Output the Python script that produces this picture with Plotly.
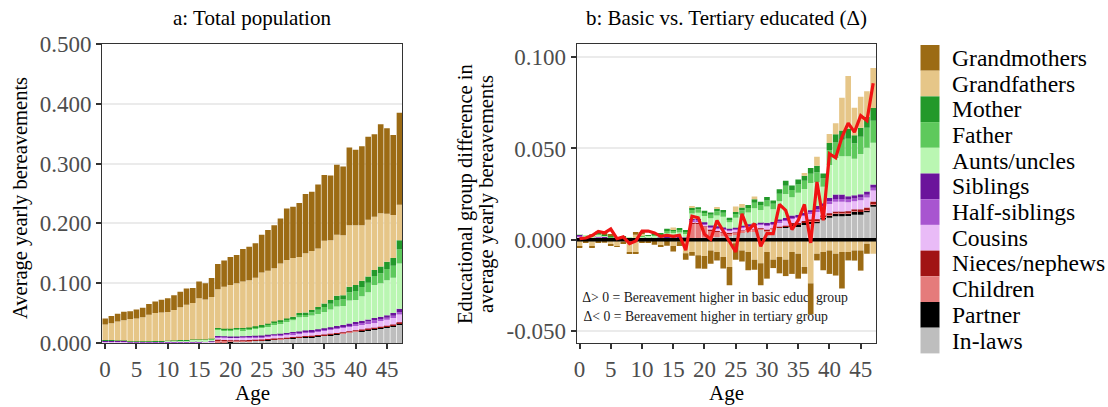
import plotly.graph_objects as go

ages = list(range(48))
age_ticks = [0, 5, 10, 15, 20, 25, 30, 35, 40, 45]

# ---------------- a: Total population (average yearly bereavements) ----------------
in_laws_a = [0, 0, 0, 0, 0, 0, 0, 0, 0, 0, 0, 0, 0, 0, 0, 0, 0, 0,
             0.0008, 0.0010, 0.0015, 0.0020, 0.0025, 0.0030, 0.0035, 0.0040, 0.0050, 0.0055,
             0.0060, 0.0070, 0.0080, 0.0085, 0.0095, 0.0100, 0.0110, 0.0120, 0.0130, 0.0145,
             0.0155, 0.0170, 0.0190, 0.0200, 0.0215, 0.0230, 0.0245, 0.0260, 0.0280, 0.0315]
partner_a = [0, 0, 0, 0, 0, 0, 0, 0, 0, 0, 0, 0, 0, 0, 0, 0, 0, 0,
             0.0002, 0.0002, 0.0002, 0.0003, 0.0003, 0.0003, 0.0003, 0.0003, 0.0004, 0.0004,
             0.0005, 0.0005, 0.0006, 0.0006, 0.0007, 0.0007, 0.0008, 0.0008, 0.0009, 0.0009,
             0.0010, 0.0010, 0.0010, 0.0011, 0.0011, 0.0012, 0.0012, 0.0013, 0.0014, 0.0015]
children_a = [0, 0, 0, 0, 0, 0, 0, 0, 0, 0, 0, 0, 0, 0, 0, 0, 0, 0,
              0.0025, 0.0022, 0.0018, 0.0012, 0.0010, 0.0008, 0.0007, 0.0006, 0.0006, 0.0006,
              0.0005, 0.0005, 0.0005, 0.0005, 0.0005, 0.0005, 0.0005, 0.0005, 0.0005, 0.0005,
              0.0005, 0.0005, 0.0005, 0.0005, 0.0004, 0.0004, 0.0004, 0.0004, 0.0004, 0.0004]
nieces_a = [0, 0, 0, 0, 0, 0, 0, 0, 0, 0, 0, 0, 0, 0, 0, 0, 0, 0,
            0.0020, 0.0016, 0.0012, 0.0010, 0.0009, 0.0008, 0.0008, 0.0008, 0.0008, 0.0009,
            0.0009, 0.0009, 0.0009, 0.0009, 0.0010, 0.0010, 0.0010, 0.0010, 0.0010, 0.0010,
            0.0010, 0.0010, 0.0010, 0.0011, 0.0011, 0.0011, 0.0011, 0.0011, 0.0012, 0.0012]
cousins_a = [0.0020, 0.0020, 0.0018, 0.0018, 0.0015, 0.0014, 0.0014, 0.0014, 0.0014, 0.0014,
             0.0014, 0.0015, 0.0015, 0.0016, 0.0016, 0.0016, 0.0017, 0.0017,
             0.0040, 0.0040, 0.0040, 0.0040, 0.0040, 0.0040, 0.0040, 0.0040, 0.0042, 0.0044,
             0.0046, 0.0048, 0.0050, 0.0052, 0.0054, 0.0056, 0.0058, 0.0060, 0.0064, 0.0068,
             0.0072, 0.0076, 0.0080, 0.0084, 0.0088, 0.0092, 0.0096, 0.0100, 0.0110, 0.0130]
half_siblings_a = [0.0012, 0.0012, 0.0010, 0.0010, 0.0006, 0.0006, 0.0006, 0.0006, 0.0006, 0.0006,
                   0.0006, 0.0006, 0.0006, 0.0006, 0.0006, 0.0006, 0.0006, 0.0006,
                   0.0012, 0.0012, 0.0013, 0.0013, 0.0014, 0.0014, 0.0015, 0.0015, 0.0016, 0.0016,
                   0.0017, 0.0017, 0.0018, 0.0019, 0.0020, 0.0021, 0.0021, 0.0022, 0.0023, 0.0024,
                   0.0025, 0.0026, 0.0028, 0.0030, 0.0031, 0.0033, 0.0034, 0.0035, 0.0037, 0.0040]
siblings_a = [0.0008, 0.0008, 0.0006, 0.0006, 0.0005, 0.0005, 0.0005, 0.0005, 0.0005, 0.0005,
              0.0005, 0.0005, 0.0005, 0.0005, 0.0005, 0.0005, 0.0005, 0.0005,
              0.0010, 0.0010, 0.0010, 0.0011, 0.0011, 0.0012, 0.0012, 0.0012, 0.0013, 0.0013,
              0.0014, 0.0014, 0.0015, 0.0016, 0.0017, 0.0018, 0.0019, 0.0020, 0.0022, 0.0024,
              0.0026, 0.0028, 0.0030, 0.0032, 0.0034, 0.0036, 0.0038, 0.0040, 0.0045, 0.0055]
aunts_a = [0.0007, 0.0007, 0.0004, 0.0004, 0.0002, 0.0003, 0.0003, 0.0003, 0.0004, 0.0004,
           0.0011, 0.0011, 0.0020, 0.0020, 0.0029, 0.0029, 0.0028, 0.0038,
           0.0103, 0.0098, 0.0100, 0.0110, 0.0105, 0.0110, 0.0122, 0.0136, 0.0138, 0.0167,
           0.0174, 0.0187, 0.0197, 0.0238, 0.0227, 0.0241, 0.0253, 0.0273, 0.0297, 0.0325,
           0.0317, 0.0385, 0.0367, 0.0407, 0.0456, 0.0552, 0.0560, 0.0587, 0.0588, 0.0759]
father_a = [0.0002, 0.0002, 0.0002, 0.0002, 0.0002, 0.0002, 0.0002, 0.0002, 0.0002, 0.0002,
            0.0002, 0.0002, 0.0002, 0.0002, 0.0002, 0.0002, 0.0002, 0.0002,
            0.0018, 0.0018, 0.0018, 0.0019, 0.0020, 0.0021, 0.0023, 0.0024, 0.0026, 0.0028,
            0.0030, 0.0033, 0.0036, 0.0042, 0.0045, 0.0055, 0.0070, 0.0085, 0.0096, 0.0108,
            0.0108, 0.0138, 0.0150, 0.0156, 0.0156, 0.0150, 0.0168, 0.0186, 0.0200, 0.0234]
mother_a = [0.0001, 0.0001, 0.0001, 0.0001, 0.0001, 0.0001, 0.0001, 0.0001, 0.0001, 0.0001,
            0.0001, 0.0001, 0.0001, 0.0001, 0.0001, 0.0001, 0.0001, 0.0001,
            0.0012, 0.0012, 0.0012, 0.0012, 0.0013, 0.0014, 0.0015, 0.0016, 0.0017, 0.0018,
            0.0020, 0.0022, 0.0024, 0.0028, 0.0030, 0.0037, 0.0046, 0.0057, 0.0064, 0.0072,
            0.0072, 0.0092, 0.0100, 0.0104, 0.0104, 0.0100, 0.0112, 0.0124, 0.0130, 0.0156]
grandfathers_a = [0.026, 0.028, 0.032, 0.034, 0.037, 0.038, 0.040, 0.044, 0.047, 0.048,
                  0.048, 0.051, 0.055, 0.059, 0.061, 0.069, 0.067, 0.070,
                  0.065, 0.070, 0.073, 0.075, 0.078, 0.079, 0.081, 0.088, 0.089, 0.089,
                  0.095, 0.098, 0.098, 0.094, 0.099, 0.099, 0.098, 0.105, 0.100, 0.102,
                  0.100, 0.103, 0.100, 0.093, 0.095, 0.089, 0.089, 0.080, 0.072, 0.059]
grandmothers_a = [0.010, 0.012, 0.013, 0.014, 0.013, 0.015, 0.016, 0.018, 0.019, 0.021,
                  0.023, 0.025, 0.026, 0.027, 0.025, 0.028, 0.027, 0.032,
                  0.042, 0.044, 0.047, 0.047, 0.054, 0.056, 0.058, 0.063, 0.068, 0.072,
                  0.075, 0.086, 0.086, 0.090, 0.099, 0.099, 0.107, 0.110, 0.108, 0.117,
                  0.115, 0.130, 0.126, 0.132, 0.139, 0.138, 0.149, 0.143, 0.134, 0.154]

# ---------------- b: Basic minus tertiary educated (delta) ----------------
in_laws_b = [0, 0, 0, 0, 0, 0, 0, 0, 0, 0, 0, 0, 0, 0, 0, 0, 0, 0,
             0.0000, 0.0005, 0.0010, 0.0012, 0.0015, 0.0018, 0.0020, 0.0027, 0.0040, 0.0045,
             0.0046, 0.0055, 0.0046, 0.0055, 0.0064, 0.0064, 0.0073, 0.0073, 0.0082, 0.0090,
             0.0090, 0.0110, 0.0120, 0.0128, 0.0128, 0.0130, 0.0137, 0.0137, 0.0150, 0.0180]
partner_b = [0, 0, 0, 0, 0, 0, 0, 0, 0, 0, 0, 0, 0, 0, 0, 0, 0, 0,
             0, 0, 0, 0, 0, 0, 0, 0, 0, 0, 0, 0, 0, 0, 0, 0.0006, 0.0008, 0.0008, 0.0010, 0.0010,
             0.0012, 0.0012, 0.0015, 0.0015, 0.0015, 0.0015, 0.0018, 0.0015, 0.0012, 0.0015]
children_b = [0, 0, 0, 0, 0, 0, 0, 0, 0, 0, 0, 0, 0, 0, 0, 0, 0, 0,
              0.0090, 0.0085, 0.0060, 0.0040, 0.0030, 0.0020, 0.0015, 0.0010, 0.0008, 0.0008,
              0.0008, 0.0006, 0.0006, 0.0004, 0.0004, 0.0004, 0.0004, 0.0004, 0.0004, 0.0004,
              0.0004, 0.0004, 0.0004, 0.0004, 0.0004, 0.0004, 0.0004, 0.0004, 0.0004, 0.0004]
nieces_b = [0, 0, 0, 0, 0, 0, 0, 0, 0, 0, 0, 0, 0, 0, 0, 0, 0, 0,
            0.0002, 0.0002, 0.0002, 0.0002, 0.0002, 0.0002, 0.0002, 0.0002, 0.0002, 0.0002,
            0.0002, 0.0002, 0.0002, 0.0002, 0.0002, 0.0002, 0.0006, 0.0006, 0.0006, 0.0006,
            0.0006, 0.0006, 0.0006, 0.0006, 0.0006, 0.0006, 0.0006, 0.0010, 0.0010, 0.0010]
cousins_b = [0.0015, 0.0008, 0.0005, 0.0010, 0.0008, 0.0004, 0.0004, 0.0004, 0.0003, 0.0003,
             0.0004, 0.0005, 0.0006, 0.0005, 0.0006, 0.0005, 0.0006, 0.0005,
             0.0010, 0.0010, 0.0012, 0.0012, 0.0015, 0.0015, 0.0012, 0.0015, 0.0015, 0.0018,
             0.0020, 0.0018, 0.0022, 0.0020, 0.0025, 0.0028, 0.0025, 0.0030, 0.0030, 0.0035,
             0.0040, 0.0035, 0.0050, 0.0055, 0.0055, 0.0050, 0.0045, 0.0050, 0.0055, 0.0060]
half_siblings_b = [0.0008, 0.0005, 0.0004, 0.0005, 0.0005, 0.0003, 0.0003, 0.0003, 0.0003, 0.0003,
                   0.0003, 0.0004, 0.0005, 0.0004, 0.0005, 0.0004, 0.0005, 0.0004,
                   0.0006, 0.0006, 0.0006, 0.0006, 0.0006, 0.0006, 0.0006, 0.0006, 0.0006, 0.0006,
                   0.0006, 0.0006, 0.0008, 0.0008, 0.0008, 0.0008, 0.0008, 0.0008, 0.0008, 0.0008,
                   0.0015, 0.0015, 0.0015, 0.0015, 0.0015, 0.0015, 0.0015, 0.0015, 0.0015, 0.0015]
siblings_b = [0.0004, 0.0004, 0.0004, 0.0004, 0.0004, 0.0002, 0.0002, 0.0002, 0.0002, 0.0002,
              0.0002, 0.0003, 0.0003, 0.0003, 0.0003, 0.0003, 0.0003, 0.0003,
              0.0005, 0.0005, 0.0005, 0.0005, 0.0005, 0.0005, 0.0005, 0.0005, 0.0005, 0.0005,
              0.0005, 0.0005, 0.0008, 0.0008, 0.0008, 0.0008, 0.0008, 0.0008, 0.0008, 0.0008,
              0.0018, 0.0018, 0.0020, 0.0025, 0.0025, 0.0018, 0.0018, 0.0018, 0.0018, 0.0018]
aunts_b = [0.0003, 0.0003, 0.0005, 0.0010, 0.0005, 0.0005, 0.0003, 0.0005, 0.0003, 0.0004,
           0.0008, 0.0008, 0.0010, 0.0012, 0.0020, 0.0025, 0.0025, 0.0020,
           0.0030, 0.0035, 0.0035, 0.0040, 0.0060, 0.0060, 0.0035, 0.0055, 0.0060, 0.0065,
           0.0085, 0.0070, 0.0090, 0.0070, 0.0100, 0.0130, 0.0100, 0.0120, 0.0130, 0.0150,
           0.0130, 0.0090, 0.0180, 0.0200, 0.0210, 0.0220, 0.0200, 0.0220, 0.0240, 0.0230]
father_b = [0, 0, 0, 0.0005, 0.0003, 0.0003, 0, 0.0003, 0, 0,
            0.0003, 0.0003, 0.0004, 0.0004, 0.0015, 0.0012, 0.0015, 0.0010,
            0.0020, 0.0018, 0.0018, 0.0020, 0.0022, 0.0022, 0.0015, 0.0020, 0.0025, 0.0025,
            0.0030, 0.0028, 0.0032, 0.0030, 0.0040, 0.0045, 0.0040, 0.0045, 0.0045, 0.0050,
            0.0055, 0.0045, 0.0080, 0.0085, 0.0090, 0.0095, 0.0085, 0.0095, 0.0110, 0.0120]
mother_b = [0, 0, 0, 0.0003, 0.0002, 0.0002, 0, 0.0002, 0, 0,
            0.0002, 0.0002, 0.0003, 0.0003, 0.0010, 0.0008, 0.0010, 0.0006,
            0.0012, 0.0012, 0.0010, 0.0012, 0.0014, 0.0014, 0.0010, 0.0012, 0.0015, 0.0016,
            0.0020, 0.0018, 0.0020, 0.0018, 0.0025, 0.0028, 0.0025, 0.0028, 0.0028, 0.0032,
            0.0035, 0.0028, 0.0040, 0.0045, 0.0050, 0.0055, 0.0045, 0.0050, 0.0060, 0.0070]
grandfathers_b_pos = [0, 0, 0, 0.0008, 0, 0, 0, 0, 0, 0.0015, 0.0010, 0, 0, 0, 0, 0.0010, 0, 0,
                      0.0010, 0, 0, 0, 0.0010, 0, 0, 0.0030, 0.0020, 0, 0.0015, 0, 0, 0,
                      0, 0, 0, 0, 0.0015, 0, 0.0050, 0, 0.0050, 0.0060, 0.0180, 0.0290,
                      0.0150, 0.0170, 0.0140, 0.0220]
grandfathers_b_neg = [-0.0040, -0.0010, -0.0040, -0.0010, -0.0005, -0.0025, -0.0035, -0.0015,
                      -0.0068, -0.0073, -0.0010, -0.0010, -0.0008, -0.0030, -0.0008, -0.0035,
                      -0.0010, -0.0075,
                      -0.0068, -0.0086, -0.0090, -0.0060, -0.0068, -0.0095, -0.0150, -0.0020,
                      -0.0060, -0.0068, -0.0110, -0.0130, -0.0068, -0.0110, -0.0095, -0.0110,
                      -0.0068, -0.0077, -0.0150, -0.0240, -0.0077, -0.0068, -0.0060, -0.0077,
                      -0.0068, -0.0068, -0.0060, -0.0060, -0.0022, -0.0077]
grandmothers_b_pos = [0, 0, 0.0012, 0, 0.0015, 0.0012, 0, 0, 0, 0.0015, 0.0006, 0, 0, 0, 0, 0, 0, 0,
                      0, 0, 0, 0, 0, 0, 0, 0, 0, 0, 0, 0, 0, 0, 0, 0, 0, 0, 0, 0, 0, 0,
                      0, 0, 0, 0, 0, 0, 0, 0]
grandmothers_b_neg = [-0.0005, -0.0005, -0.0005, -0.0005, -0.0012, -0.0005, -0.0005, -0.0005,
                      -0.0010, -0.0005, -0.0005, -0.0005, -0.0020, -0.0005, -0.0025, -0.0030,
                      -0.0025, -0.0035,
                      -0.0020, -0.0073, -0.0070, -0.0073, -0.0046, -0.0064, -0.0100, -0.0090,
                      -0.0060, -0.0100, -0.0055, -0.0120, -0.0146, -0.0046, -0.0090, -0.0090,
                      -0.0120, -0.0137, -0.0037, -0.0170, -0.0037, -0.0100, -0.0128, -0.0120,
                      -0.0200, -0.0046, -0.0055, -0.0110, -0.0055, 0.0000]
# net difference (basic - tertiary), all kin combined
net_difference = [0.0005, 0.0009, 0.0022, 0.0045, 0.0037, 0.0058, 0.0005, 0.0015, -0.0022, -0.0007,
                  0.0047, 0.0047, 0.0037, 0.0018, 0.0024, 0.0018, 0.0024, -0.0058,
                  0.0128, 0.0120, 0.0030, 0.0002, 0.0105, 0.0050, -0.0010, -0.0068, 0.0142, 0.0051,
                  0.0088, -0.0037, 0.0033, 0.0033, 0.0193, 0.0160, 0.0055, 0.0106, 0.0193, -0.0018,
                  0.0316, 0.0106, 0.0471, 0.0449, 0.0562, 0.0639, 0.0590, 0.0680, 0.0653, 0.0858]

# kin categories, bottom of stack first
kin = [
    ("In-laws", "#BEBEBE", [in_laws_a], [in_laws_b]),
    ("Partner", "#000000", [partner_a], [partner_b]),
    ("Children", "#E57B7B", [children_a], [children_b]),
    ("Nieces/nephews", "#A11414", [nieces_a], [nieces_b]),
    ("Cousins", "#E9BBF7", [cousins_a], [cousins_b]),
    ("Half-siblings", "#A855D0", [half_siblings_a], [half_siblings_b]),
    ("Siblings", "#6B149B", [siblings_a], [siblings_b]),
    ("Aunts/uncles", "#BAF6B2", [aunts_a], [aunts_b]),
    ("Father", "#5EC95C", [father_a], [father_b]),
    ("Mother", "#22992A", [mother_a], [mother_b]),
    ("Grandfathers", "#E6C688", [grandfathers_a], [grandfathers_b_pos, grandfathers_b_neg]),
    ("Grandmothers", "#9C6B14", [grandmothers_a], [grandmothers_b_pos, grandmothers_b_neg]),
]

W, H = 1108, 407
SERIF = "Liberation Serif, Times New Roman, Times, serif"


def fx(px):
    return px / W


def fy(py):
    return 1 - py / H


fig = go.Figure()

for name, color, series_a, series_b in kin:
    for vals in series_a:
        fig.add_trace(go.Bar(x=ages, y=vals, name=name, marker=dict(color=color, line=dict(width=0)),
                             xaxis="x", yaxis="y", showlegend=False))
    for vals in series_b:
        fig.add_trace(go.Bar(x=ages, y=vals, name=name, marker=dict(color=color, line=dict(width=0)),
                             xaxis="x3", yaxis="y3", showlegend=False))

# zero reference line and net difference line in panel b
fig.add_trace(go.Scatter(x=[ages[0] - 1, ages[-1] + 1], y=[0, 0], mode="lines",
                         line=dict(color="black", width=3.5), xaxis="x3", yaxis="y3",
                         showlegend=False, hoverinfo="skip"))
fig.add_trace(go.Scatter(x=ages, y=net_difference, mode="lines", line=dict(color="#F01414", width=3.2),
                         xaxis="x3", yaxis="y3", showlegend=False, name="Net difference"))

# explanatory notes sit underneath the bars of panel b
fig.add_trace(go.Scatter(x=[0.45, 0.65], y=[-0.0322, -0.0430], mode="text",
                         text=["\u0394> 0 = Bereavement higher in basic educ. group",
                               "\u0394< 0 = Bereavement higher in tertiary group"],
                         textposition="middle right",
                         textfont=dict(family=SERIF, size=13.7, color="#1a1a1a"),
                         xaxis="x2", yaxis="y2", showlegend=False, hoverinfo="skip"))

xrange = [-0.45, 47.45]
yrange_b = [-0.0567, 0.1073]
tickfont = dict(family=SERIF, size=23, color="#4D4D4D")
common_x = dict(range=xrange, tickvals=age_ticks, ticks="outside", ticklen=5, tickwidth=1.5,
                tickcolor="#333333", showline=True, mirror=True, linecolor="#333333", linewidth=1.2,
                showgrid=False, zeroline=False, tickfont=tickfont, automargin=False)
common_y = dict(ticks="outside", ticklen=5, tickwidth=1.5, tickcolor="#333333", showline=True,
                mirror=True, linecolor="#333333", linewidth=1.2, showgrid=True, gridcolor="#EBEBEB",
                gridwidth=1.5, zeroline=False, tickfont=tickfont, automargin=False)

fig.update_layout(
    width=W, height=H,
    margin=dict(l=0, r=0, t=0, b=0),
    paper_bgcolor="white", plot_bgcolor="white",
    barmode="relative", bargap=0.1,
    font=dict(family=SERIF, color="black"),
    showlegend=False,
    xaxis=dict(domain=[fx(102.3), fx(402.3)], anchor="y", **common_x),
    yaxis=dict(domain=[fy(343), fy(44)], anchor="x", range=[0, 0.5],
               tickvals=[0, 0.1, 0.2, 0.3, 0.4, 0.5],
               ticktext=["0.000", "0.100", "0.200", "0.300", "0.400", "0.500"], **common_y),
    xaxis2=dict(domain=[fx(576.7), fx(876)], anchor="y2", **common_x),
    yaxis2=dict(domain=[fy(343), fy(44)], anchor="x2", range=yrange_b,
                tickvals=[-0.05, 0, 0.05, 0.1],
                ticktext=["-0.050", "0.000", "0.050", "0.100"], **common_y),
    xaxis3=dict(overlaying="x2", anchor="y3", range=xrange, visible=False),
    yaxis3=dict(overlaying="y2", anchor="x3", range=yrange_b, visible=False),
)

ann = []
# panel titles
ann.append(dict(text="a: Total population", x=fx(252.3), y=fy(18), xref="paper", yref="paper",
                showarrow=False, font=dict(family=SERIF, size=21), xanchor="center", yanchor="middle"))
ann.append(dict(text="b: Basic vs. Tertiary educated (\u0394)", x=fx(726.4), y=fy(18), xref="paper",
                yref="paper", showarrow=False, font=dict(family=SERIF, size=21),
                xanchor="center", yanchor="middle"))
# axis titles
for cx in (252.3, 726.4):
    ann.append(dict(text="Age", x=fx(cx), y=fy(393), xref="paper", yref="paper", showarrow=False,
                    font=dict(family=SERIF, size=21), xanchor="center", yanchor="middle"))
ann.append(dict(text="Average yearly bereavements", x=fx(20), y=fy(198), xref="paper", yref="paper",
                showarrow=False, textangle=-90, font=dict(family=SERIF, size=20.5),
                xanchor="center", yanchor="middle"))
ann.append(dict(text="Educational group difference in", x=fx(465), y=fy(194), xref="paper",
                yref="paper", showarrow=False, textangle=-90, font=dict(family=SERIF, size=20.5),
                xanchor="center", yanchor="middle"))
ann.append(dict(text="average yearly bereavements", x=fx(486), y=fy(194), xref="paper",
                yref="paper", showarrow=False, textangle=-90, font=dict(family=SERIF, size=20.5),
                xanchor="center", yanchor="middle"))

# legend: top entry is the top of the stack
shapes = []
key_top, key_h = 45.0, 25.7
for i, (name, color, _, _) in enumerate(reversed(kin)):
    y0 = key_top + i * key_h
    shapes.append(dict(type="rect", xref="paper", yref="paper", x0=fx(920.5), x1=fx(939.5),
                       y0=fy(y0 + key_h), y1=fy(y0), fillcolor=color, line=dict(width=0)))
    ann.append(dict(text=name, x=fx(950), y=fy(y0 + key_h / 2), xref="paper", yref="paper",
                    showarrow=False, font=dict(family=SERIF, size=23.6), xanchor="left",
                    yanchor="middle"))

fig.update_layout(annotations=ann, shapes=shapes)
fig.write_html("out.html")
